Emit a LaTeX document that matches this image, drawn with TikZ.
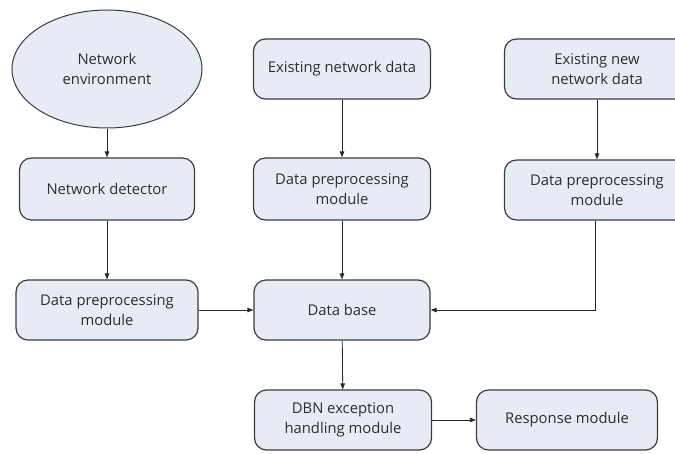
\documentclass[tikz,border=0pt]{standalone}
\usepackage{fontspec}
\setmainfont{Open Sans}
\usetikzlibrary{shapes.geometric,arrows.meta}
\definecolor{boxfill}{RGB}{231,235,246}
\definecolor{boxdraw}{RGB}{60,60,60}
\definecolor{txt}{RGB}{45,45,45}
\tikzset{
  blk/.style={draw=boxdraw, line width=1.2pt, fill=boxfill, rounded corners=12pt,
    minimum width=176pt, minimum height=60pt, align=center, text=txt,
    font=\fontsize{14.8}{20}\selectfont, inner sep=0pt},
  oval/.style={ellipse, draw=boxdraw, line width=1pt, fill=boxfill,
    minimum width=190pt, minimum height=118pt, align=center, text=txt,
    font=\fontsize{14.8}{20}\selectfont, inner sep=0pt},
  conn/.style={draw=black!85, line width=0.8pt, -{Triangle[length=6pt,width=4.5pt]}}
}
\begin{document}
\begin{tikzpicture}[x=1pt,y=-1pt]
\useasboundingbox (0,0) rectangle (675,453);
\clip (0,0) rectangle (675,453);
\node[oval] (env) at (107,69) {Network\\environment};
\node[blk, minimum width=175pt, minimum height=62pt] (det) at (107,189) {Network detector};
\node[blk, minimum width=182pt] (pre1) at (107,310) {Data preprocessing\\module};
\node[blk, minimum width=177pt] (exist) at (342,69) {Existing network data};
\node[blk, minimum width=177pt, minimum height=62pt] (pre2) at (342,189) {Data preprocessing\\module};
\node[blk, minimum width=176pt] (db) at (342,310) {Data base};
\node[blk, minimum width=185pt] (newd) at (597,69) {Existing new\\network data};
\node[blk, minimum width=185pt] (pre3) at (597,190) {Data preprocessing\\module};
\node[blk, minimum width=177pt] (dbn) at (343,420) {DBN exception\\handling module};
\node[blk, minimum width=181pt] (resp) at (567,420) {Response module};
\draw[conn] (env) -- (det);
\draw[conn] (det) -- (pre1);
\draw[conn] (exist) -- (pre2);
\draw[conn] (pre2) -- (db);
\draw[conn] (newd) -- (pre3);
\draw[conn] (pre1) -- (db);
\draw[conn] (pre3.south -| 595,0) |- (db.east);
\draw[conn] (db) -- (dbn);
\draw[conn] (dbn) -- (resp);
\end{tikzpicture}
\end{document}
